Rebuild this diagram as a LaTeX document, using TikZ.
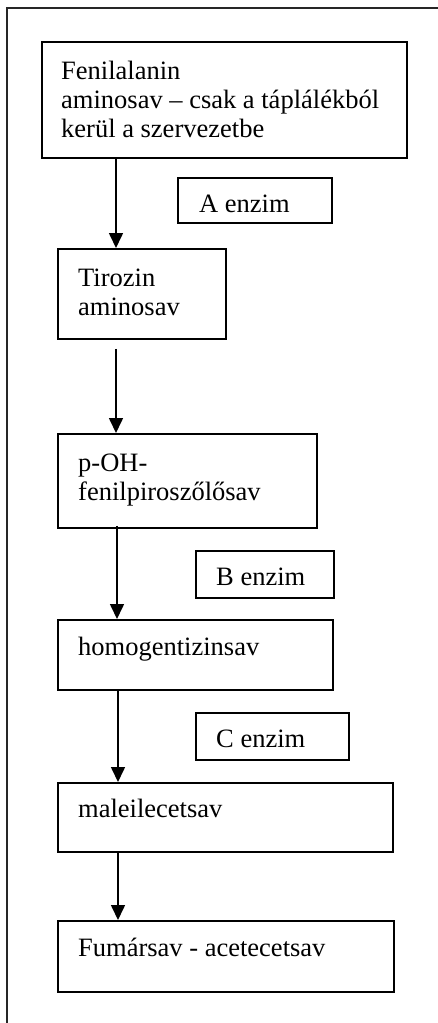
\documentclass[tikz,border=0pt]{standalone}
\usepackage{fontspec}
\setmainfont{Liberation Serif}
\usetikzlibrary{arrows.meta,calc}
\begin{document}
\begin{tikzpicture}[x=1pt,y=-1pt,
  box/.style={draw,line width=1.8pt,inner sep=0pt,anchor=north west},
  lbl/.style={inner sep=0pt,anchor=base west,align=left,font=\fontsize{26.5}{28.8}\selectfont},
  arr/.style={line width=1.6pt,-{Triangle[width=14pt,length=15pt]}}]
\useasboundingbox (0,0) rectangle (438,1023);
% outer frame (partially visible)
\coordinate (fr1) at (7,1023);
\coordinate (fr2) at (7,8);
\coordinate (fr3) at (438,8);
\draw[line width=1.8pt,draw=black!85] (fr1) -- (fr2) -- (fr3);
% boxes
\node[box,minimum width=365pt,minimum height=116pt] (b1) at (41,41) {};
\node[box,minimum width=154pt,minimum height=45pt] (ea) at (177,177) {};
\node[box,minimum width=168pt,minimum height=90pt] (b2) at (57,248) {};
\node[box,minimum width=259pt,minimum height=94pt] (b3) at (57,433) {};
\node[box,minimum width=138pt,minimum height=47pt] (eb) at (195,550) {};
\node[box,minimum width=275pt,minimum height=70pt] (b4) at (57,619) {};
\node[box,minimum width=153pt,minimum height=47pt] (ec) at (195,712) {};
\node[box,minimum width=335pt,minimum height=69pt] (b5) at (57,782) {};
\node[box,minimum width=336pt,minimum height=71pt] (b6) at (57,920) {};
% labels (base anchor = last line baseline)
\node[lbl] (t1) at ($(b1.north west)+(20,96)$) {Fenilalanin\\aminosav – csak a táplálékból\\kerül a szervezetbe};
\node[lbl] (ta) at ($(ea.north west)+(22,35)$) {A enzim};
\node[lbl] (t2) at ($(b2.north west)+(21,67)$) {Tirozin\\aminosav};
\node[lbl] (t3) at ($(b3.north west)+(21,67)$) {p-OH-\\fenilpiroszőlősav};
\node[lbl] (tb) at ($(eb.north west)+(21,35)$) {B enzim};
\node[lbl] (t4) at ($(b4.north west)+(21,36)$) {homogentizinsav};
\node[lbl] (tc) at ($(ec.north west)+(21,35)$) {C enzim};
\node[lbl] (t5) at ($(b5.north west)+(21,35)$) {maleilecetsav};
\node[lbl] (t6) at ($(b6.north west)+(21,36)$) {Fumársav - acetecetsav};
% arrows
\draw[arr] ($(b1.south west)+(75,0)$) -- ($(b2.north west)+(59,0)$);
\draw[arr] ($(b2.south west)+(59,9)$) -- ($(b3.north west)+(59,0)$);
\draw[arr] ($(b3.south west)+(60,-3)$) -- ($(b4.north west)+(60,0)$);
\draw[arr] ($(b4.south west)+(61,0)$) -- ($(b5.north west)+(61,0)$);
\draw[arr] ($(b5.south west)+(61,0)$) -- ($(b6.north west)+(61,0)$);
\end{tikzpicture}
\end{document}
